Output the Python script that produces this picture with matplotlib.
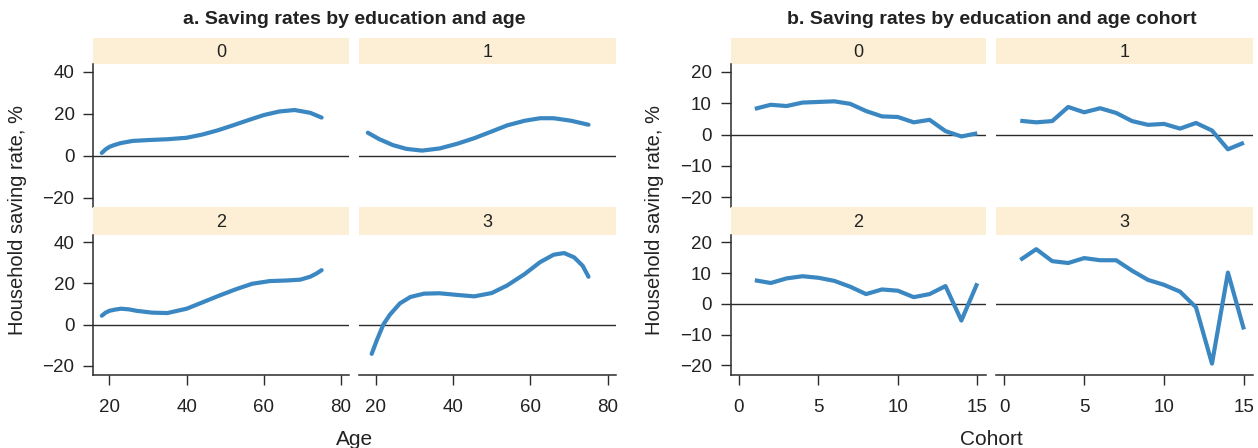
import matplotlib
matplotlib.use("Agg")
import matplotlib.pyplot as plt

plt.rcParams["font.family"] = ["Liberation Sans", "DejaVu Sans"]

# Panel a: smoothed saving rate by age, one curve per education group
age_0 = [18, 19, 20, 21.5, 23, 26, 30, 35, 40, 44, 48, 52, 56, 60, 64, 68, 72, 75]
rate_0 = [1.3, 3.0, 4.2, 5.2, 6.0, 7.0, 7.4, 7.8, 8.5, 10.0, 12.0, 14.4, 16.9, 19.3, 21.0, 21.7, 20.4, 18.1]

age_1 = [18, 21, 24.5, 28, 32, 36.5, 41, 45.5, 50, 54, 58.5, 62.5, 66, 70.5, 75]
rate_1 = [10.9, 7.8, 5.0, 3.2, 2.4, 3.4, 5.6, 8.3, 11.5, 14.4, 16.6, 17.8, 17.8, 16.6, 14.7]

age_2 = [18, 19, 20, 21.5, 23, 25, 27, 31, 35, 40, 44, 48.5, 53, 57, 61.5, 66, 69.5, 72, 73.5, 75]
rate_2 = [4.3, 5.8, 6.7, 7.3, 7.7, 7.4, 6.7, 5.8, 5.6, 7.7, 10.7, 14.1, 17.3, 19.8, 21.1, 21.4, 21.8, 23.2, 24.6, 26.4]

age_3 = [19, 20.3, 22, 23.7, 26.3, 29, 32.5, 36.5, 41, 45.5, 50, 54, 58.5, 62.5, 66, 68.7, 71.3, 73.5, 75]
rate_3 = [-14.2, -7.7, 0.0, 4.8, 10.3, 13.4, 15.0, 15.2, 14.4, 13.7, 15.3, 19.0, 24.5, 30.3, 33.9, 34.7, 32.6, 28.5, 23.2]

# Panel b: saving rate by age cohort
cohort = list(range(1, 16))
cohort_rate_0 = [8.2, 9.5, 9.1, 10.2, 10.4, 10.6, 9.8, 7.5, 5.8, 5.6, 3.9, 4.7, 1.1, -0.6, 0.4]
cohort_rate_1 = [4.4, 3.9, 4.3, 8.8, 7.1, 8.4, 6.9, 4.3, 3.1, 3.4, 1.9, 3.7, 1.3, -4.7, -2.6]
cohort_rate_2 = [7.7, 6.8, 8.3, 9.0, 8.5, 7.5, 5.6, 3.2, 4.7, 4.3, 2.2, 3.2, 5.8, -5.4, 6.7]
cohort_rate_3 = [14.3, 17.8, 13.9, 13.3, 14.9, 14.2, 14.2, 10.8, 7.8, 6.2, 4.0, -1.1, -19.4, 10.2, -8.3]

groups = ["0", "1", "2", "3"]

W, H = 1258, 448
fig = plt.figure(figsize=(W / 100, H / 100), dpi=100)

LINE = "#3b87c2"
STRIP = "#fdefd5"
DARK = "#2b2b2b"
TEXT = "#222222"


def box(x0, y0, x1, y1):
    return [x0 / W, 1 - y1 / H, (x1 - x0) / W, (y1 - y0) / H]


rows = [((38.3, 64.0), (64.0, 206.7)), ((206.7, 234.7), (234.7, 374.7))]


def facet(xs, ys, col, row, xlim, ylim, yticks, xticks, label, cap):
    (sy0, sy1), (ay0, ay1) = rows[row]
    x0, x1 = col
    strip = fig.add_axes(box(x0, sy0, x1, sy1))
    strip.set_facecolor(STRIP)
    strip.set_xticks([])
    strip.set_yticks([])
    for s in strip.spines.values():
        s.set_visible(False)
    strip.text(0.5, 0.45, label, ha="center", va="center", fontsize=13, color=TEXT)

    ax = fig.add_axes(box(x0, ay0, x1, ay1))
    ax.axhline(0, color=DARK, lw=1.0, zorder=1)
    ax.plot(xs, ys, color=LINE, lw=3.0, solid_capstyle=cap, solid_joinstyle="round", zorder=2)
    ax.set_xlim(*xlim)
    ax.set_ylim(*ylim)
    ax.set_facecolor("none")
    for s in ["top", "right"]:
        ax.spines[s].set_visible(False)
    ax.spines["left"].set_visible(col in first_cols)
    ax.spines["bottom"].set_visible(row == 1)
    for s in ["left", "bottom"]:
        ax.spines[s].set_color(DARK)
        ax.spines[s].set_linewidth(1.1)
    ax.tick_params(colors=DARK, labelcolor=TEXT, length=7.5, width=1.0,
                   labelsize=13.5)
    ax.tick_params(axis="y", pad=6)
    ax.tick_params(axis="x", pad=10)
    if col in first_cols:
        ax.set_yticks(yticks)
        ax.set_yticklabels([str(t).replace("-", "\u2212") for t in yticks])
    else:
        ax.set_yticks([])
    if row == 1:
        ax.set_xticks(xticks)
    else:
        ax.set_xticks([])
    return ax


a_cols = [(93.3, 349.0), (359.3, 616.0)]
b_cols = [(730.7, 986.0), (996.0, 1252.7)]
first_cols = [a_cols[0], b_cols[0]]

a_data = [(age_0, rate_0), (age_1, rate_1), (age_2, rate_2), (age_3, rate_3)]
b_data = [cohort_rate_0, cohort_rate_1, cohort_rate_2, cohort_rate_3]

for i, (xs, ys) in enumerate(a_data):
    facet(xs, ys, a_cols[i % 2], i // 2, (15.8, 82.1), (-24.3, 43.6),
          [-20, 0, 20, 40], [20, 40, 60, 80], groups[i], "round")

for i, ys in enumerate(b_data):
    facet(cohort, ys, b_cols[i % 2], i // 2, (-0.52, 15.55), (-23.0, 22.5),
          [-20, -10, 0, 10, 20], [0, 5, 10, 15], groups[i], "butt")

# panel titles and shared axis labels
fig.text(354.7 / W, 1 - 20 / H, "a. Saving rates by education and age",
         ha="center", va="center", fontsize=14, fontweight="bold", color=TEXT)
fig.text(991.5 / W, 1 - 20 / H, "b. Saving rates by education and age cohort",
         ha="center", va="center", fontsize=14, fontweight="bold", color=TEXT)
fig.text(354.7 / W, 1 - 439 / H, "Age", ha="center", va="center", fontsize=15, color=TEXT)
fig.text(991.5 / W, 1 - 439 / H, "Cohort", ha="center", va="center", fontsize=15, color=TEXT)
fig.text(18 / W, 1 - 220 / H, "Household saving rate, %", rotation=90,
         ha="center", va="center", fontsize=14.5, color=TEXT)
fig.text(654 / W, 1 - 220 / H, "Household saving rate, %", rotation=90,
         ha="center", va="center", fontsize=14.5, color=TEXT)

fig.savefig("out.png", dpi=100)
